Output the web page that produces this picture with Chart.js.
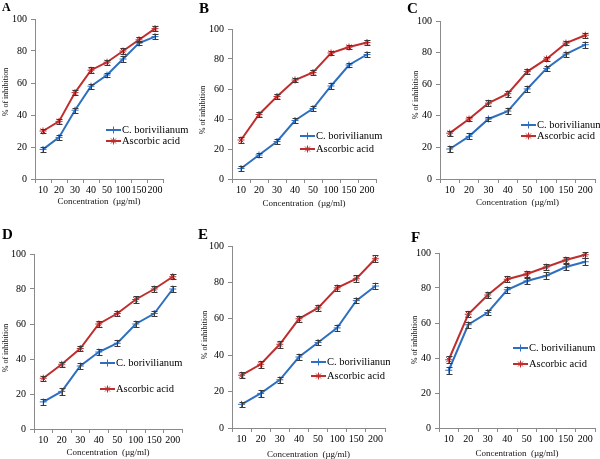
<!DOCTYPE html>
<html><head><meta charset="utf-8">
<script src="https://cdn.jsdelivr.net/npm/chart.js"></script>
<style>
body{margin:0;background:#fff;width:600px;height:459px;position:relative;overflow:hidden}
canvas{position:absolute}
</style>
</head><body>
<script>
// ---------- data ----------
const categories = ['10','20','30','40','50','100','150','200'];
const seriesNames = ['C. borivilianum','Ascorbic acid'];
const yTickValues = [0,20,40,60,80,100];
const panelLetters = ['A','B','C','D','E','F'];
const xTitle = 'Concentration  (\u00b5g/ml)';
const yTitle = '% of inhibition';

const boriA = [18.5,26,43,58,65,75,85,89];
const ascA  = [30,36,54,68,73,80,87,94];
const boriB = [7,16,25,39,47,62,76,83];
const ascB  = [26,43,55,66,71,84,88,91];
const boriC = [19,27,38,43,57,70,79,85];
const ascC  = [29,38,48,54,68,76,86,91];
const boriD = [15.5,21.5,36,44,49,60,66,80];
const ascD  = [29,37,46,60,66,74,80,87];
const boriE = [13,19,26.5,39,47,55,70,78];
const ascE  = [29,35,46,60,66,77,82,93];
const boriF = [33,59,66,79,84,87,92,95];
const ascF  = [39,65,76,85,88,92,96,99];

const errBoriA = [1.8,1.5,1.5,1.5,1.5,1.8,1.5,1.5];
const errAscA  = [1.5,1.5,1.8,1.8,1.5,1.8,1.5,1.8];
const errBoriB = [1.5,1.5,1.5,1.5,1.8,1.8,1.5,1.8];
const errAscB  = [1.8,1.5,1.5,1.5,1.5,1.5,1.5,1.8];
const errBoriC = [1.8,1.8,1.5,1.8,1.8,1.5,1.5,1.8];
const errAscC  = [1.5,1.5,1.8,1.8,1.5,1.5,1.5,1.5];
const errBoriD = [1.5,1.8,1.5,1.5,1.8,1.8,1.5,1.8];
const errAscD  = [1.5,1.5,1.5,1.5,1.5,1.8,1.5,1.5];
const errBoriE = [1.5,1.8,1.5,1.8,1.5,1.5,1.5,1.8];
const errAscE  = [1.5,1.8,1.8,1.5,1.5,1.5,1.8,1.8];
const errBoriF = [2,1.8,1.5,1.8,1.8,2,1.8,2];
const errAscF  = [2,1.8,1.5,1.8,1.8,1.8,1.8,1.8];

const panelData = [
  [boriA, ascA, errBoriA, errAscA],
  [boriB, ascB, errBoriB, errAscB],
  [boriC, ascC, errBoriC, errAscC],
  [boriD, ascD, errBoriD, errAscD],
  [boriE, ascE, errBoriE, errAscE],
  [boriF, ascF, errBoriF, errAscF]
];

// ---------- layout (page pixels) ----------
const layouts = [
  {rect:[0,0,195,225],   area:[35,19,163,179],  letter:[2,11,12],   legend:[106,130,141], xt:202, yt:[6,92]},
  {rect:[195,0,195,225], area:[232,29,376,179], letter:[199,13,15], legend:[300,136,149], xt:204, yt:[203,110]},
  {rect:[390,0,210,225], area:[440,21,597,179], letter:[407,13,15], legend:[521,125,136], xt:203, yt:[416,95]},
  {rect:[0,225,195,234], area:[34,254,182,429], letter:[2,239,15],  legend:[100,363,389], xt:453, yt:[6,348]},
  {rect:[195,225,195,234],area:[232,246,393,428],letter:[198,239,15],legend:[311,362,376], xt:455, yt:[205,335]},
  {rect:[390,225,210,234],area:[439,253,599,428],letter:[411,242,15],legend:[513,348,364], xt:454, yt:[415,340]}
];

const BLUE = '#2E6FC0';
const RED  = '#BF2E2E';
const AXIS = '#8a8a8a';
const SERIF = '"Liberation Serif", "Times New Roman", serif';

const extras = {
  id: 'extras',
  afterDatasetsDraw(chart, args, opts) {
    const ctx = chart.ctx, ys = chart.scales.y;
    chart.data.datasets.forEach((ds, i) => {
      const meta = chart.getDatasetMeta(i);
      ctx.save();
      ctx.strokeStyle = '#3a3a3a';
      ctx.lineWidth = 1;
      meta.data.forEach((pt, j) => {
        const v = ds.data[j], e = ds.errors[j];
        const y1 = Math.round(ys.getPixelForValue(v - e)) + 0.5;
        const y2 = Math.round(ys.getPixelForValue(v + e)) + 0.5;
        const x = Math.round(pt.x) + 0.5;
        ctx.beginPath();
        ctx.moveTo(x, y1); ctx.lineTo(x, y2);
        ctx.moveTo(x - 3, y1); ctx.lineTo(x + 3, y1);
        ctx.moveTo(x - 3, y2); ctx.lineTo(x + 3, y2);
        ctx.stroke();
      });
      ctx.restore();
    });
  },
  afterDraw(chart, args, opts) {
    const L = opts.layout, ctx = chart.ctx;
    const ox = L.rect[0], oy = L.rect[1];
    ctx.save();
    // panel letter
    ctx.fillStyle = '#000';
    ctx.font = 'bold ' + L.letter[2] + 'px ' + SERIF;
    ctx.textBaseline = 'alphabetic';
    ctx.textAlign = 'left';
    ctx.fillText(opts.letter, L.letter[0] - ox, L.letter[1] - oy);
    // x title
    const ca = chart.chartArea;
    ctx.font = '9px ' + SERIF;
    ctx.textAlign = 'center';
    ctx.textBaseline = 'middle';
    ctx.fillStyle = '#111';
    ctx.fillText(xTitle, (ca.left + ca.right) / 2, L.xt - oy);
    // y title
    ctx.save();
    ctx.translate(L.yt[0] - ox, L.yt[1] - oy);
    ctx.rotate(-Math.PI / 2);
    ctx.font = '8px ' + SERIF;
    ctx.fillText(yTitle, 0, 0);
    ctx.restore();
    // legend
    const rows = [L.legend[1], L.legend[2]];
    chart.data.datasets.forEach((ds, i) => {
      const x0 = L.legend[0] - ox, y = rows[i] - oy;
      ctx.strokeStyle = ds.borderColor;
      ctx.lineWidth = 2;
      ctx.beginPath(); ctx.moveTo(x0, y); ctx.lineTo(x0 + 15, y); ctx.stroke();
      ctx.lineWidth = 1;
      Chart.helpers.drawPoint(ctx, {pointStyle: ds.pointStyle, radius: ds.pointRadius, rotation: 0, borderWidth: 1}, x0 + 7.5, y);
      ctx.fillStyle = '#000';
      ctx.font = '10.5px ' + SERIF;
      ctx.textAlign = 'left';
      ctx.textBaseline = 'middle';
      ctx.fillText(ds.label, x0 + 16, y + 0.5);
    });
    ctx.restore();
  }
};

layouts.forEach((L, k) => {
  const [bori, asc, eb, ea] = panelData[k];
  const cv = document.createElement('canvas');
  cv.width = L.rect[2]; cv.height = L.rect[3];
  cv.style.left = L.rect[0] + 'px'; cv.style.top = L.rect[1] + 'px';
  cv.style.width = L.rect[2] + 'px'; cv.style.height = L.rect[3] + 'px';
  document.body.appendChild(cv);
  const padTop = L.area[1] - L.rect[1];
  const padRight = L.rect[0] + L.rect[2] - L.area[2];
  const yW = L.area[0] - L.rect[0];
  const xH = L.rect[1] + L.rect[3] - L.area[3];
  new Chart(cv, {
    type: 'line',
    data: {
      labels: categories,
      datasets: [
        {label: seriesNames[0], data: bori, errors: eb, borderColor: BLUE, backgroundColor: BLUE,
         borderWidth: 2, pointStyle: 'cross', pointRadius: 3.5, pointBorderWidth: 1, tension: 0, fill: false},
        {label: seriesNames[1], data: asc, errors: ea, borderColor: RED, backgroundColor: RED,
         borderWidth: 2, pointStyle: 'star', pointRadius: 3.5, pointBorderWidth: 1, tension: 0, fill: false}
      ]
    },
    options: {
      responsive: false,
      animation: false,
      devicePixelRatio: 1,
      layout: {padding: {top: padTop, right: padRight, left: 0, bottom: 0}},
      plugins: {legend: {display: false}, tooltip: {enabled: false},
                extras: {layout: L, letter: panelLetters[k]}},
      scales: {
        x: {
          type: 'category', offset: true,
          grid: {display: true, offset: true, drawOnChartArea: false, drawTicks: true, tickLength: 4, color: AXIS},
          border: {display: true, color: AXIS, width: 1},
          ticks: {autoSkip: false, maxRotation: 0, minRotation: 0, padding: 1, color: '#000',
                  font: {family: SERIF, size: 10}},
          afterFit: s => { s.height = xH; }
        },
        y: {
          min: 0, max: 100,
          afterBuildTicks: s => { s.ticks = yTickValues.map(v => ({value: v})); },
          grid: {display: true, drawOnChartArea: false, drawTicks: true, tickLength: 4, color: AXIS},
          border: {display: true, color: AXIS, width: 1},
          ticks: {padding: 4, color: '#000', font: {family: SERIF, size: 10}},
          afterFit: s => { s.width = yW; }
        }
      }
    },
    plugins: [extras]
  });
});
</script>
</body></html>
